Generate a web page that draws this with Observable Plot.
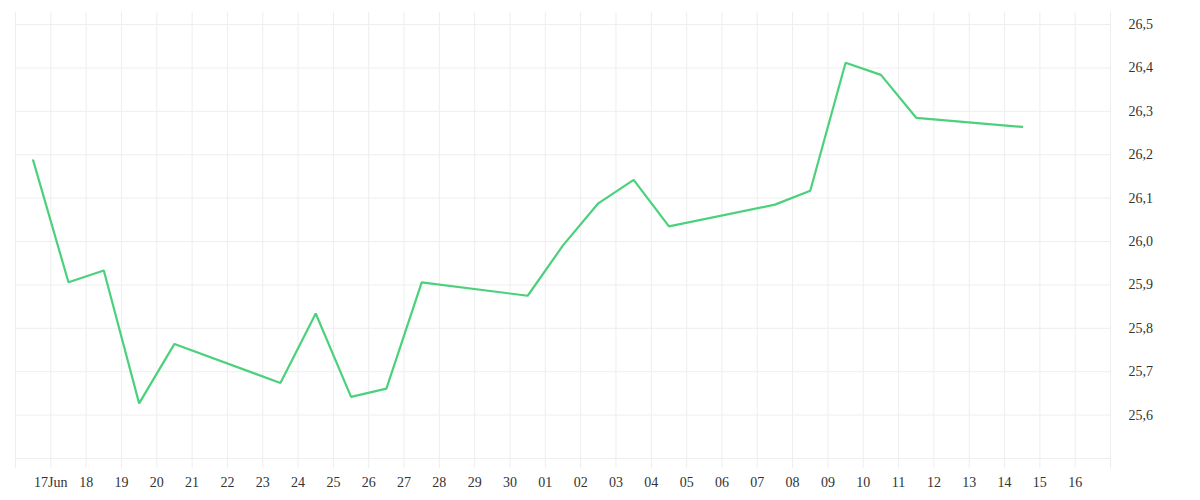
<!DOCTYPE html>
<html>
<head>
<meta charset="utf-8">
<script src="https://cdn.jsdelivr.net/npm/d3@7"></script>
<script src="https://cdn.jsdelivr.net/npm/@observablehq/plot@0.6"></script>
<style>
  html, body { margin: 0; padding: 0; background: #ffffff; }
  #chart { width: 1200px; height: 500px; }
</style>
</head>
<body>
<div id="chart"></div>
<script>
// Trading days (2025) and closing values
const dates = [
  "2025-06-16", "2025-06-17", "2025-06-18", "2025-06-19", "2025-06-20",
  "2025-06-23", "2025-06-24", "2025-06-25", "2025-06-26", "2025-06-27",
  "2025-06-30", "2025-07-01", "2025-07-02", "2025-07-03", "2025-07-04",
  "2025-07-07", "2025-07-08", "2025-07-09", "2025-07-10", "2025-07-11",
  "2025-07-14"
];
const values = [
  26.187, 25.906, 25.933, 25.627, 25.764,
  25.674, 25.834, 25.642, 25.661, 25.906,
  25.875, 25.991, 26.088, 26.142, 26.035,
  26.085, 26.117, 26.412, 26.384, 26.285,
  26.264
];
// Axis setup
const xStart = "2025-06-16";
const xEnd = "2025-07-17";
const yTicks = [25.5, 25.6, 25.7, 25.8, 25.9, 26.0, 26.1, 26.2, 26.3, 26.4, 26.5];
const yLabelTicks = [25.6, 25.7, 25.8, 25.9, 26.0, 26.1, 26.2, 26.3, 26.4, 26.5];
const yDomain = [25.47696, 26.52765];

const dayMs = 24 * 3600 * 1000;
const start = new Date(xStart);
const end = new Date(xEnd);
const gridDays = d3.utcDay.range(start, new Date(+end + 1));
const labelDays = d3.utcDay.range(new Date(+start + dayMs), end);

const data = dates.map((d, i) => ({date: new Date(Date.parse(d) + dayMs / 2), value: values[i]}));

const grid = "#eeeeee";

const chart = Plot.plot({
  width: 1200,
  height: 500,
  marginTop: 12,
  marginBottom: 32,
  marginLeft: 15,
  marginRight: 90,
  style: {fontFamily: "'Liberation Serif', 'DejaVu Serif', serif", fontSize: "14px", color: "#333", background: "#ffffff"},
  x: {type: "utc", domain: [start, end]},
  y: {domain: yDomain},
  marks: [
    Plot.ruleY(yTicks, {x1: start, x2: end, stroke: grid, strokeWidth: 1}),
    Plot.ruleX(gridDays, {stroke: grid, strokeWidth: 1}),
    Plot.axisX(labelDays, {
      tickSize: 0,
      tickPadding: 9,
      label: null,
      fill: "#333",
      tickFormat: d => (d.getUTCDate() === 17 && d.getUTCMonth() === 5) ? "17Jun" : d3.utcFormat("%d")(d)
    }),
    Plot.axisY(yLabelTicks, {
      anchor: "right",
      tickSize: 0,
      tickPadding: 18,
      textAnchor: "start",
      label: null,
      fill: "#333",
      tickFormat: d => d.toFixed(1).replace(".", ",")
    }),
    Plot.line(data, {x: "date", y: "value", stroke: "#4bd17b", strokeWidth: 2.2, strokeLinejoin: "miter"})
  ]
});

document.getElementById("chart").appendChild(chart);
</script>
</body>
</html>
